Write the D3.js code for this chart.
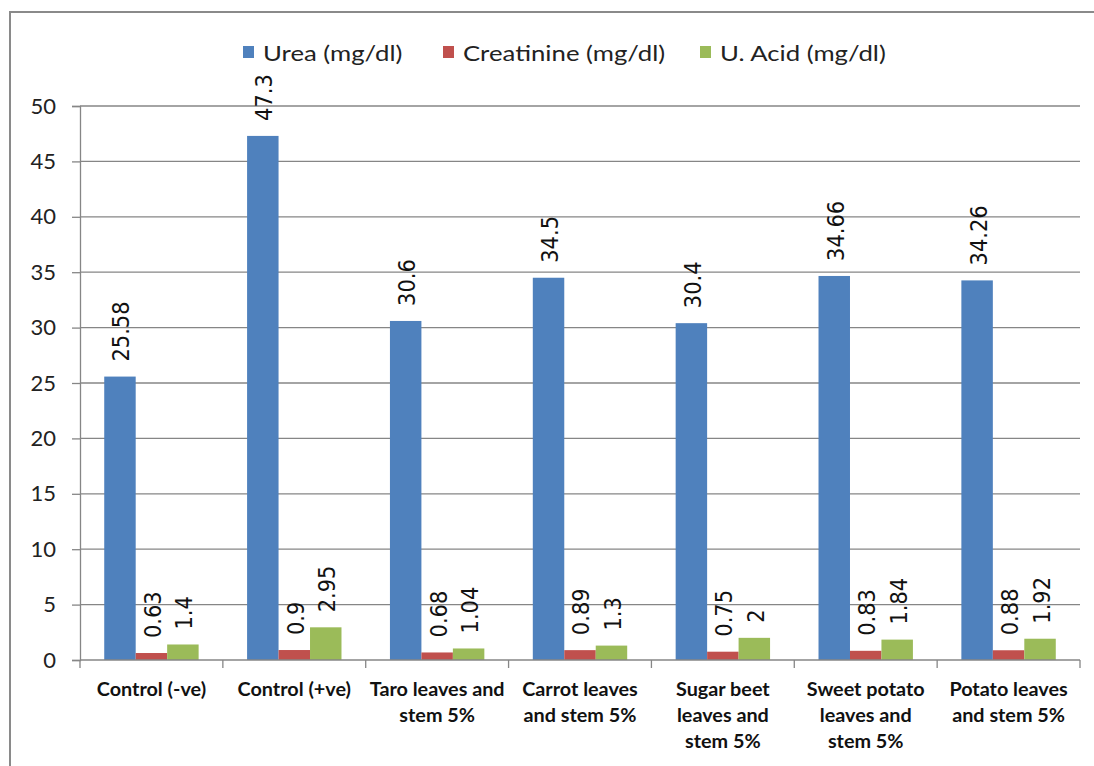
<!DOCTYPE html>
<html>
<head>
<meta charset="utf-8">
<script src="https://cdn.jsdelivr.net/npm/d3@7"></script>
<style>
  html, body { margin: 0; padding: 0; background: #ffffff; }
  svg { display: block; }
</style>
</head>
<body>
<svg id="chart" width="1094" height="766"></svg>
<script>
// Kidney function markers per diet group
const categories = [
  ["Control (-ve)"],
  ["Control (+ve)"],
  ["Taro leaves and", "stem 5%"],
  ["Carrot leaves", "and stem 5%"],
  ["Sugar beet", "leaves and", "stem 5%"],
  ["Sweet potato", "leaves and", "stem 5%"],
  ["Potato leaves", "and stem 5%"]
];
const seriesNames = ["Urea (mg/dl)", "Creatinine (mg/dl)", "U. Acid (mg/dl)"];
const urea       = [25.58, 47.3, 30.6, 34.5, 30.4, 34.66, 34.26];
const creatinine = [0.63, 0.9, 0.68, 0.89, 0.75, 0.83, 0.88];
const uricAcid   = [1.4, 2.95, 1.04, 1.3, 2, 1.84, 1.92];
const yTicks     = [0, 5, 10, 15, 20, 25, 30, 35, 40, 45, 50];

const colors = ["#4f81bd", "#c0504d", "#9bbb59"];
const seriesValues = [urea, creatinine, uricAcid];

const svg = d3.select("#chart");
const plot = { left: 80, right: 1080, top: 106, bottom: 660 };

// Outer frame (top and left edges)
svg.append("path")
  .attr("d", "M10,766 L10,12 L1094,12")
  .attr("fill", "none")
  .attr("stroke", "#8a8a8a")
  .attr("stroke-width", 2);

const x0 = d3.scaleBand()
  .domain(d3.range(categories.length))
  .range([plot.left, plot.right])
  .padding(0);

const x1 = d3.scaleBand()
  .domain(d3.range(seriesNames.length))
  .range([0, x0.bandwidth()])
  .paddingInner(0)
  .paddingOuter(0.77);

const y = d3.scaleLinear().domain([0, 50]).range([plot.bottom, plot.top]);

// Y axis with tick labels
const yAxis = d3.axisLeft(y).tickValues(yTicks).tickSize(8).tickPadding(16)
  .tickFormat(d3.format("d"));
const gy = svg.append("g").attr("transform", `translate(${plot.left},0)`).call(yAxis);
gy.select(".domain").attr("stroke", "#868686").attr("stroke-width", 1.3);
gy.selectAll(".tick line").attr("stroke", "#868686").attr("stroke-width", 1.3);
gy.selectAll(".tick text")
  .attr("font-family", "Lato, 'Open Sans', sans-serif")
  .attr("font-size", 22)
  .attr("fill", "#222");

// Horizontal gridlines
svg.append("g").selectAll("line.grid")
  .data(yTicks.filter(d => d > 0))
  .join("line")
  .attr("x1", plot.left).attr("x2", plot.right)
  .attr("y1", d => y(d)).attr("y2", d => y(d))
  .attr("stroke", "#868686")
  .attr("stroke-width", 1.3);

// Bars
const groups = svg.append("g").selectAll("g")
  .data(categories.map((c, i) => i))
  .join("g")
  .attr("transform", i => `translate(${x0(i)},0)`);

groups.selectAll("rect")
  .data(i => seriesValues.map((vals, s) => ({ s, v: vals[i] })))
  .join("rect")
  .attr("x", d => x1(d.s))
  .attr("width", x1.bandwidth())
  .attr("y", d => y(d.v))
  .attr("height", d => y(0) - y(d.v))
  .attr("fill", d => colors[d.s]);

// Value labels, rotated
groups.selectAll("text.val")
  .data(i => seriesValues.map((vals, s) => ({ s, v: vals[i] })))
  .join("text")
  .attr("class", "val")
  .attr("transform", d => `translate(${x1(d.s) + x1.bandwidth() / 2 + 1},${y(d.v) - 15}) scale(1.12,1) rotate(-90)`)
  .attr("dy", "0.36em")
  .attr("text-anchor", "start")
  .attr("font-family", "'DejaVu Sans', Verdana, sans-serif")
  .attr("font-size", 21)
  .attr("fill", "#111")
  .text(d => String(d.v));

// X axis line and category separators
const xAxisG = svg.append("g");
xAxisG.append("line")
  .attr("x1", plot.left).attr("x2", plot.right)
  .attr("y1", plot.bottom).attr("y2", plot.bottom)
  .attr("stroke", "#868686").attr("stroke-width", 1.3);
xAxisG.selectAll("line.sep")
  .data(d3.range(categories.length + 1))
  .join("line")
  .attr("class", "sep")
  .attr("x1", i => plot.left + i * x0.step())
  .attr("x2", i => plot.left + i * x0.step())
  .attr("y1", plot.bottom).attr("y2", plot.bottom + 8)
  .attr("stroke", "#868686").attr("stroke-width", 1.3);

// Category labels
xAxisG.selectAll("text.cat")
  .data(categories)
  .join("text")
  .attr("class", "cat")
  .attr("transform", (d, i) => `translate(${x0(i) + x0.bandwidth() / 2},0) scale(1.1,1)`)
  .attr("text-anchor", "middle")
  .attr("font-family", "Lato, 'Open Sans', sans-serif")
  .attr("font-weight", "bold")
  .attr("font-size", 18)
  .attr("fill", "#111")
  .each(function (lines) {
    const t = d3.select(this);
    lines.forEach((ln, k) => {
      t.append("tspan")
        .attr("x", 0)
        .attr("y", 696 + k * 26)
        .text(ln);
    });
  });

// Legend
const legendX = [243, 443, 700];
const legend = svg.append("g").selectAll("g")
  .data(seriesNames)
  .join("g")
  .attr("transform", (d, i) => `translate(${legendX[i]},46)`);
legend.append("rect")
  .attr("width", 11).attr("height", 12)
  .attr("fill", (d, i) => colors[i]);
legend.append("text")
  .attr("transform", "translate(20,7) scale(1.17,1)")
  .attr("dy", "0.36em")
  .attr("font-family", "Lato, 'Open Sans', sans-serif")
  .attr("font-size", 22)
  .attr("fill", "#222")
  .text(d => d);
</script>
</body>
</html>
